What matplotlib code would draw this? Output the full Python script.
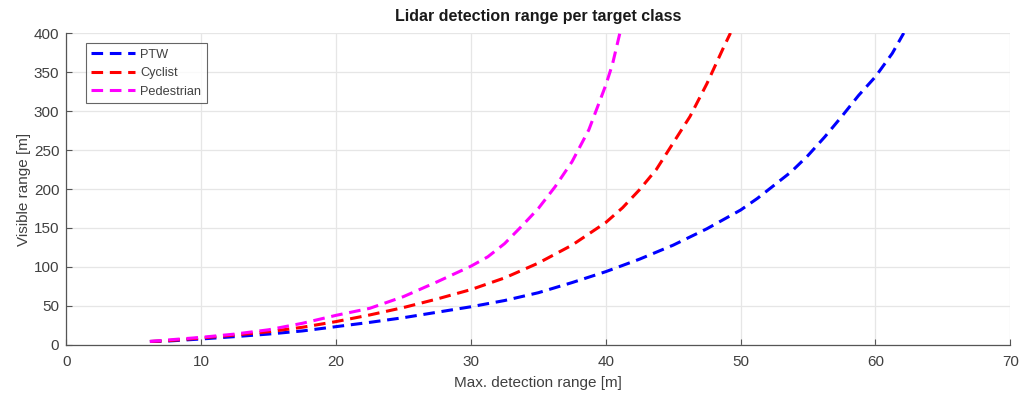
import matplotlib
matplotlib.use("Agg")
import matplotlib.pyplot as plt

plt.rcParams['font.family'] = ['Liberation Sans', 'DejaVu Sans']

# Data
ptw_x = [6.2, 7.5, 10, 12.5, 15, 17.5, 20, 22.5, 25, 27.5, 30, 32.5, 35, 37.5,
         40, 42.5, 45, 47.5, 50, 51.25, 52.5, 53.75, 55, 56.25, 57.5, 58.75,
         60, 61.25, 62.1]
ptw_y = [4.5, 5, 7.7, 10.7, 14, 18, 23.5, 29, 35, 42, 49, 57, 67, 80,
         94, 110, 128, 149, 173, 188, 205, 222, 243, 267, 293, 320,
         344, 374, 400]

cyc_x = [6.2, 7.5, 10, 12.5, 15, 17.5, 20, 22.5, 25, 27.5, 30, 32.5, 35, 37.5,
         40, 41.25, 42.5, 43.75, 45, 46.25, 47.5, 48.75, 49.25]
cyc_y = [4.5, 5.5, 9, 12.8, 17, 22.7, 30, 38.5, 48, 59, 71, 86, 105, 128,
         157, 176, 199, 225, 259, 293, 335, 382, 400]

ped_x = [6.2, 7.5, 10, 12.5, 15, 17.5, 20, 22.5, 25, 27.5, 30, 31.25, 32.5,
         33.75, 35, 36.25, 37.5, 38.75, 40, 40.5, 41.05]
ped_y = [4.5, 6.4, 9.8, 14, 19.5, 27.8, 38, 47, 62, 81, 101, 113, 130,
         152, 175, 203, 235, 276, 333, 360, 400]

labels = ['PTW', 'Cyclist', 'Pedestrian']
colors = ['#0000ff', '#ff0000', '#ff00ff']

title = 'Lidar detection range per target class'
xlabel = 'Max. detection range [m]'
ylabel = 'Visible range [m]'
xticks = [0, 10, 20, 30, 40, 50, 60, 70]
yticks = [0, 50, 100, 150, 200, 250, 300, 350, 400]

fig = plt.figure(figsize=(10.23, 3.94), dpi=100)
ax = fig.add_axes([0.0648, 0.1244, 0.9228, 0.7918])

txt = '#404040'
for xs, ys, lab, c in zip([ptw_x, cyc_x, ped_x], [ptw_y, cyc_y, ped_y], labels, colors):
    ax.plot(xs, ys, color=c, lw=2.2, ls=(0, (3.8, 2.2)), label=lab)

ax.set_xlim(0, 70)
ax.set_ylim(0, 400)
ax.set_xticks(xticks)
ax.set_yticks(yticks)
ax.grid(True, color='#e6e6e6', lw=0.9)
ax.set_axisbelow(True)
for s in ['top', 'right']:
    ax.spines[s].set_visible(False)
for s in ['left', 'bottom']:
    ax.spines[s].set_color('#555555')
    ax.spines[s].set_linewidth(0.9)
ax.tick_params(direction='in', length=4, colors='#555555', labelcolor=txt, labelsize=11)
ax.tick_params(axis='x', pad=7)
ax.tick_params(axis='y', pad=5)

ax.set_title(title, fontsize=11.5, fontweight='bold', color='#1a1a1a', pad=9)
ax.set_xlabel(xlabel, fontsize=11, color=txt, labelpad=5)
ax.set_ylabel(ylabel, fontsize=11, color=txt, labelpad=2)

leg = ax.legend(loc='upper left', bbox_to_anchor=(0.0205, 0.968), fontsize=9.2,
                frameon=True, fancybox=False, edgecolor='#404040',
                handlelength=3.4, borderpad=0.45, labelspacing=0.5,
                handletextpad=0.4, borderaxespad=0)
leg.get_frame().set_linewidth(0.8)
for t in leg.get_texts():
    t.set_color(txt)

fig.savefig('out.png', dpi=100)
